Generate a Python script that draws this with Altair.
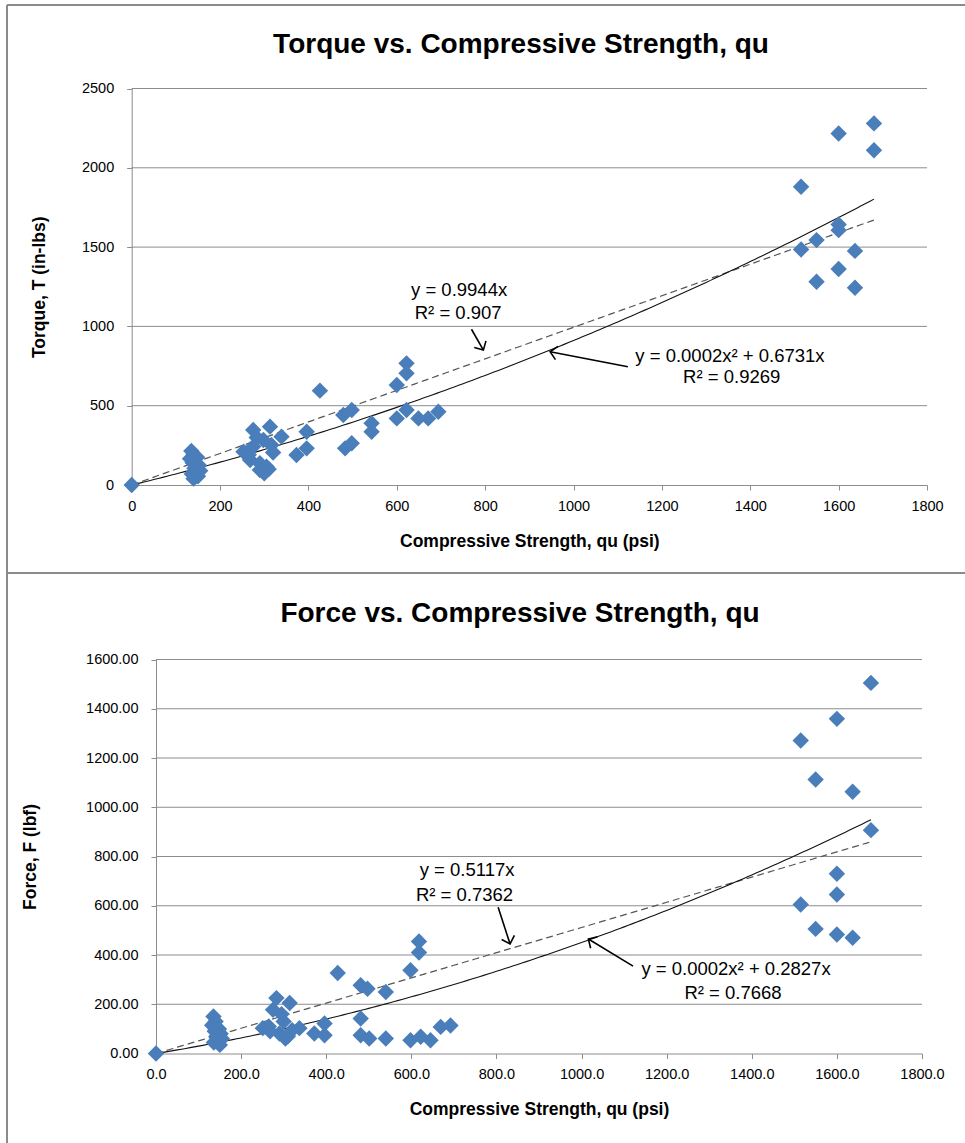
import altair as alt
import pandas as pd

# ---------------- data ----------------
# Torque panel: compressive strength qu (psi) and torque T (in-lbs)
torque_qu = [0,
    135, 140, 132, 148, 138, 152, 142, 155, 136, 150, 140,
    253, 265, 275, 275, 283, 290, 290, 298, 300, 305, 313, 316, 320, 339, 268, 310,
    373, 396, 396, 426, 479, 483, 498, 498, 543, 543, 600, 600, 622, 622, 622, 649, 671, 694,
    1515, 1515, 1550, 1550, 1600, 1600, 1600, 1600, 1637, 1637, 1680, 1680]
torque_T = [0,
    215, 190, 165, 175, 140, 125, 105, 90, 70, 55, 40,
    210, 190, 242, 347, 300, 137, 95, 284, 74, 116, 368, 252, 205, 305, 158, 100,
    189, 231, 336, 595, 441, 231, 473, 263, 389, 336, 420, 630, 704, 767, 473, 420, 420, 462,
    1880, 1485, 1544, 1282, 2216, 1643, 1607, 1362, 1476, 1244, 2280, 2111]

# Force panel: compressive strength qu (psi) and force F (lbf)
force_qu = [0,
    135, 140, 132, 148, 138, 152, 142, 155, 136, 150, 140,
    251, 265, 275, 283, 290, 295, 300, 304, 314, 320, 337, 268, 310,
    372, 396, 396, 427, 481, 481, 481, 497, 501, 540, 540, 598, 598, 618, 618, 622, 645, 669, 692,
    1515, 1515, 1550, 1550, 1600, 1600, 1600, 1600, 1637, 1637, 1680, 1680]
force_F = [0,
    150, 130, 115, 100, 90, 80, 70, 60, 45, 35, 100,
    103, 110, 178, 225, 81, 160, 130, 61, 205, 95, 103, 90, 70,
    81, 122, 74, 327, 277, 142, 74, 263, 61, 250, 61, 338, 54, 455, 410, 68, 54, 108, 114,
    1271, 605, 1113, 506, 1359, 730, 646, 483, 1063, 470, 1505, 907]

# trendline coefficients (linear through origin, 2nd-order polynomial through origin)
torque_lin = 0.9944
torque_quad = (0.000238, 0.6731)
force_lin = 0.5117
force_quad = (0.000168, 0.2827)
trend_end = 1680

# trendline labels (positions in data units of each panel)
torque_labels = ["y = 0.9944x", "R² = 0.907", "y = 0.0002x² + 0.6731x", "R² = 0.9269"]
torque_label_x = [741, 739, 1354, 1358]
torque_label_y = [1229, 1084, 813, 681]
torque_arrow_from = [(769, 982), (1123, 746)]
torque_arrow_to = [(796, 851), (947, 840)]
torque_arrow_angle = [60.7, 190.8]

force_labels = ["y = 0.5117x", "R² = 0.7362", "y = 0.0002x² + 0.2827x", "R² = 0.7668"]
force_label_x = [731, 725, 1363, 1356]
force_label_y = [745, 644, 343, 246]
force_arrow_from = [(804, 594), (1121, 355)]
force_arrow_to = [(832, 445), (1016, 465)]
force_arrow_angle = [72.3, 211.1]

x_ticks = [0, 200, 400, 600, 800, 1000, 1200, 1400, 1600, 1800]
torque_ticks = [0, 500, 1000, 1500, 2000, 2500]
force_ticks = [0, 200, 400, 600, 800, 1000, 1200, 1400, 1600]

# ---------------- layout / styling ----------------
CW, CH = 965, 1143
TOP = dict(xr=[131.7, 927], yr=[485, 88.5])
BOT = dict(xr=[156, 922], yr=[1053.5, 659.5])
BLUE = "#4A7EBB"
GRID = "#8C8C8C"
FRAME = "#8A8A8A"
FONT = "Liberation Sans"
CHEVRON = "M-1,-1L0,0L-1,1"
XTITLE = "Compressive Strength, qu (psi)"


def panel(geo, qu, vals, lin, quad, labels, lx, ly, afrom, ato, aang,
          ymax, yticks, xfmt, yfmt, ytitle, ytitle_x):
    def xs():
        return alt.Scale(domain=[0, 1800], range=geo["xr"], nice=False, zero=False)

    def ys():
        return alt.Scale(domain=[0, ymax], range=geo["yr"], nice=False, zero=False)

    def X(f):
        return alt.X(f, type="quantitative", scale=xs(), axis=None)

    def Y(f):
        return alt.Y(f, type="quantitative", scale=ys(), axis=None)

    layers = []

    # horizontal gridlines
    grid = pd.DataFrame({"g": yticks[1:]})
    layers.append(alt.Chart(grid).mark_rule(color=GRID, strokeWidth=1).encode(
        y=Y("g"), x=alt.X(datum=0, type="quantitative", scale=xs(), axis=None),
        x2=alt.X2(datum=1800)))

    # trendlines
    trend = alt.Chart(alt.sequence(0, trend_end + 1, 10, as_="qu")).transform_calculate(
        lin=f"{lin} * datum.qu",
        quad=f"{quad[0]} * datum.qu * datum.qu + {quad[1]} * datum.qu")
    layers.append(trend.mark_line(color="#555555", strokeDash=[7, 4], strokeWidth=1.2).encode(
        x=X("qu"), y=Y("lin")))
    layers.append(trend.mark_line(color="#111111", strokeWidth=1.1).encode(
        x=X("qu"), y=Y("quad")))

    # points with the panel's axes
    bottom_axis = geo["yr"][0]
    xaxis = alt.Axis(orient="bottom", offset=bottom_axis - CH, values=x_ticks, format=xfmt,
                     grid=False, domainColor=GRID, tickColor=GRID, tickSize=5,
                     labelFont=FONT, labelFontSize=14.5, labelColor="black",
                     labelPadding=9, labelFlush=False,
                     titleFont=FONT, titleFontSize=17.5, titleFontWeight="bold",
                     titleColor="black", titleY=56, titleBaseline="middle")
    yaxis = alt.Axis(orient="left", offset=-geo["xr"][0], values=yticks, format=yfmt,
                     grid=False, domainColor=GRID, tickColor=GRID, tickSize=5,
                     labelFont=FONT, labelFontSize=14.5, labelColor="black",
                     labelPadding=13, titleFont=FONT, titleFontSize=17.5,
                     titleFontWeight="bold", titleColor="black",
                     titleX=ytitle_x, titleBaseline="middle")
    df = pd.DataFrame({"qu": qu, "v": vals})
    layers.append(alt.Chart(df).mark_point(shape="diamond", filled=True, size=270,
                                           color=BLUE, opacity=1).encode(
        x=alt.X("qu:Q", scale=xs(), axis=xaxis, title=XTITLE),
        y=alt.Y("v:Q", scale=ys(), axis=yaxis, title=ytitle)))

    # arrows pointing at the trendlines
    arr = pd.DataFrame({"x": [a[0] for a in afrom], "y": [a[1] for a in afrom],
                        "x2": [a[0] for a in ato], "y2": [a[1] for a in ato],
                        "ang": aang})
    layers.append(alt.Chart(arr).mark_rule(color="black", strokeWidth=1.6).encode(
        x=X("x"), y=Y("y"), x2="x2:Q", y2="y2:Q"))
    layers.append(alt.Chart(arr).mark_point(shape=CHEVRON, filled=False, size=180,
                                            color="black", strokeWidth=1.6, opacity=1).encode(
        x=X("x2"), y=Y("y2"), angle=alt.Angle("ang:Q", scale=None)))

    # trendline equations
    ann = pd.DataFrame({"x": lx, "y": ly, "t": labels})
    layers.append(alt.Chart(ann).mark_text(font=FONT, fontSize=18.5, color="black",
                                           baseline="middle", align="center").encode(
        x=X("x"), y=Y("y"), text="t:N"))
    return layers


top_layers = panel(TOP, torque_qu, torque_T, torque_lin, torque_quad, torque_labels,
                   torque_label_x, torque_label_y, torque_arrow_from, torque_arrow_to,
                   torque_arrow_angle, 2500, torque_ticks, "d", "d",
                   "Torque, T (in-lbs)", -92)
bottom_layers = panel(BOT, force_qu, force_F, force_lin, force_quad, force_labels,
                      force_label_x, force_label_y, force_arrow_from, force_arrow_to,
                      force_arrow_angle, 1600, force_ticks, ".1f", ".2f",
                      "Force, F (lbf)", -126)

# chart titles and chart-area frame lines
titles = pd.DataFrame({"t": ["Torque vs. Compressive Strength, qu",
                             "Force vs. Compressive Strength, qu"],
                       "tx": [521, 520], "ty": [45, 614]})
title_layer = alt.Chart(titles).mark_text(font=FONT, fontSize=28, fontWeight="bold",
                                          color="black", baseline="middle",
                                          align="center").encode(
    x=alt.X("tx:Q", scale=None), y=alt.Y("ty:Q", scale=None), text="t:N")

frame = pd.DataFrame({"x": [7, 7, 7], "x2": [CW, 7, CW],
                      "y": [5, 5, 573], "y2": [5, CH, 573]})
frame_layer = alt.Chart(frame).mark_rule(color=FRAME, strokeWidth=2).encode(
    x=alt.X("x:Q", scale=None), x2="x2:Q", y=alt.Y("y:Q", scale=None), y2="y2:Q")

chart = alt.layer(frame_layer, title_layer, *top_layers, *bottom_layers).resolve_scale(
    x="independent", y="independent"
).properties(
    width=CW, height=CH,
    autosize=alt.AutoSizeParams(type="none"),
    padding=0,
    background="white",
).configure_view(strokeWidth=0)

chart.save("out.html", embed_options={"renderer": "svg", "actions": False})
